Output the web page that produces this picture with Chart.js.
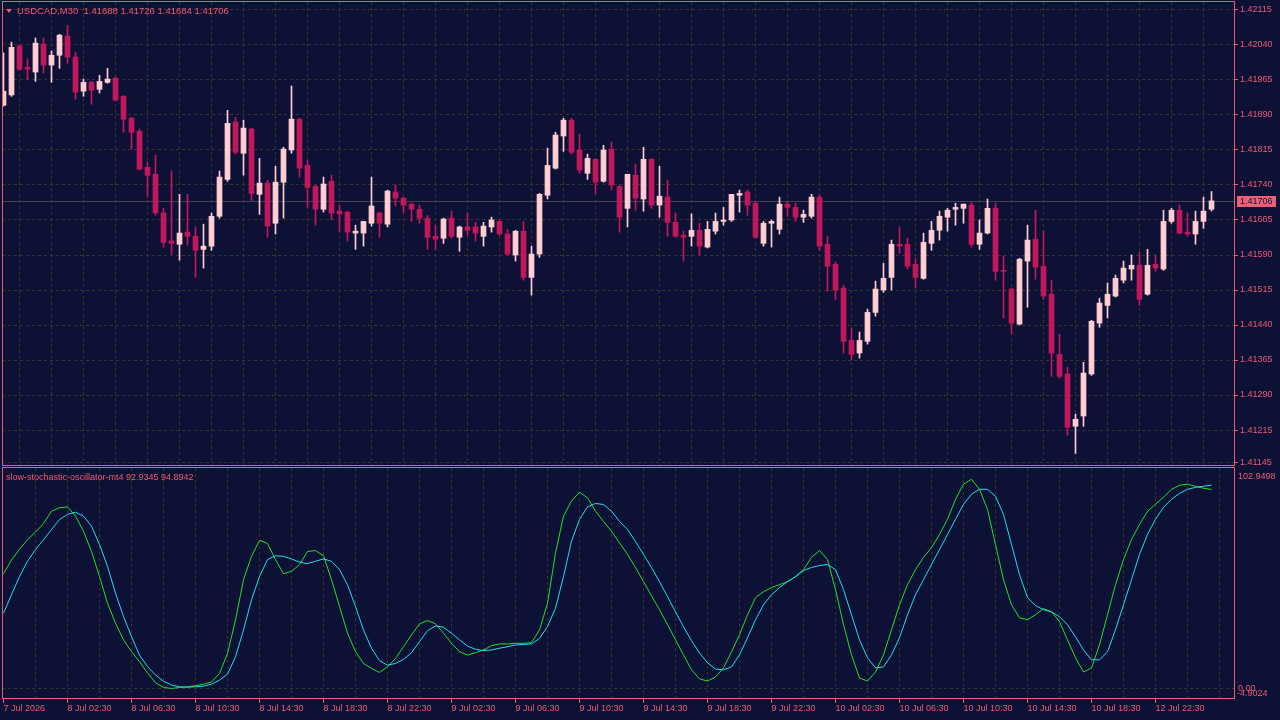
<!DOCTYPE html>
<html><head><meta charset="utf-8">
<script src="https://cdn.jsdelivr.net/npm/chart.js@4.4.1/dist/chart.umd.min.js"></script>
<style>
html,body{margin:0;padding:0;background:#0E1136;width:1280px;height:720px;overflow:hidden;}
#wrap{position:relative;width:1280px;height:720px;background:#0E1136;}
canvas{position:absolute;left:0;}
#c1{top:0;}
#c2{top:467px;}
.lbl{position:absolute;color:#EE5A70;font-family:"Liberation Sans",Arial,sans-serif;white-space:pre;line-height:1;}
#t1{left:17px;top:6px;font-size:9.5px;}
#t2{left:6px;top:473px;font-size:9px;}
#tri{position:absolute;left:6px;top:9px;width:0;height:0;border-left:3.5px solid transparent;border-right:3.5px solid transparent;border-top:4px solid #EE5A70;}
</style></head>
<body><div id="wrap">
<canvas id="c1" width="1280" height="468"></canvas>
<canvas id="c2" width="1280" height="253"></canvas>
<div id="tri"></div>
<div class="lbl" id="t1">USDCAD,M30  1.41688 1.41726 1.41684 1.41706</div>
<div class="lbl" id="t2">slow-stochastic-oscillator-mt4 92.9345 94.8942</div>
</div>
<script>
// ---- data ----
const timeLabels = ["7 Jul 2026","8 Jul 02:30","8 Jul 06:30","8 Jul 10:30","8 Jul 14:30","8 Jul 18:30","8 Jul 22:30","9 Jul 02:30","9 Jul 06:30","9 Jul 10:30","9 Jul 14:30","9 Jul 18:30","9 Jul 22:30","10 Jul 02:30","10 Jul 06:30","10 Jul 10:30","10 Jul 14:30","10 Jul 18:30","12 Jul 22:30"];
const priceTicks = [1.42115,1.42040,1.41965,1.41890,1.41815,1.41740,1.41665,1.41590,1.41515,1.41440,1.41365,1.41290,1.41215,1.41145];
const stochAxisMax = 102.9498;
const stochAxisMin = -4.9024;
const stochLevel = 0;

const opens = [1.41911,1.41933,1.42038,1.41992,1.41982,1.42042,1.41997,1.42018,1.42059,1.42014,
1.41941,1.41960,1.41945,1.41960,1.41969,1.41930,1.41883,1.41855,1.41778,1.41763,
1.41680,1.41620,1.41613,1.41639,1.41630,1.41602,1.41609,1.41673,1.41752,1.41875,
1.41808,1.41860,1.41720,1.41744,1.41658,1.41746,1.41815,1.41881,1.41782,1.41737,
1.41688,1.41748,1.41684,1.41682,1.41637,1.41637,1.41658,1.41680,1.41656,1.41725,
1.41712,1.41699,1.41688,1.41669,1.41630,1.41626,1.41669,1.41628,1.41650,1.41650,
1.41630,1.41650,1.41662,1.41635,1.41590,1.41641,1.41542,1.41592,1.41718,1.41776,
1.41845,1.41879,1.41815,1.41765,1.41795,1.41748,1.41817,1.41737,1.41690,1.41761,
1.41710,1.41795,1.41697,1.41714,1.41660,1.41632,1.41630,1.41643,1.41607,1.41641,
1.41662,1.41665,1.41718,1.41725,1.41701,1.41615,1.41658,1.41645,1.41699,1.41692,
1.41671,1.41673,1.41714,1.41613,1.41570,1.41519,1.41407,1.41380,1.41405,1.41467,
1.41515,1.41542,1.41613,1.41613,1.41570,1.41540,1.41615,1.41643,1.41671,1.41688,
1.41690,1.41697,1.41613,1.41637,1.41690,1.41557,1.41517,1.41442,1.41577,1.41624,
1.41566,1.41506,1.41377,1.41335,1.41223,1.41245,1.41335,1.41444,1.41482,1.41502,
1.41536,1.41560,1.41568,1.41506,1.41570,1.41560,1.41662,1.41686,1.41639,1.41635,
1.41662,1.41688];
const highs = [1.42023,1.42046,1.42040,1.42010,1.42055,1.42055,1.42027,1.42063,1.42082,1.42025,
1.41967,1.41962,1.41975,1.41990,1.41971,1.41932,1.41885,1.41860,1.41789,1.41804,
1.41690,1.41770,1.41720,1.41720,1.41650,1.41656,1.41680,1.41770,1.41900,1.41885,
1.41879,1.41862,1.41797,1.41750,1.41780,1.41821,1.41952,1.41883,1.41793,1.41740,
1.41757,1.41761,1.41697,1.41684,1.41654,1.41662,1.41757,1.41682,1.41729,1.41740,
1.41714,1.41701,1.41697,1.41675,1.41654,1.41669,1.41684,1.41652,1.41680,1.41660,
1.41660,1.41671,1.41665,1.41645,1.41643,1.41662,1.41609,1.41722,1.41819,1.41853,
1.41883,1.41883,1.41849,1.41806,1.41797,1.41825,1.41832,1.41740,1.41763,1.41785,
1.41821,1.41797,1.41780,1.41750,1.41680,1.41641,1.41678,1.41658,1.41662,1.41680,
1.41692,1.41720,1.41729,1.41729,1.41703,1.41662,1.41665,1.41714,1.41703,1.41701,
1.41686,1.41720,1.41720,1.41630,1.41575,1.41525,1.41433,1.41425,1.41474,1.41534,
1.41572,1.41622,1.41650,1.41626,1.41583,1.41637,1.41662,1.41684,1.41690,1.41701,
1.41699,1.41703,1.41665,1.41710,1.41701,1.41588,1.41519,1.41583,1.41654,1.41686,
1.41641,1.41536,1.41420,1.41350,1.41249,1.41360,1.41450,1.41497,1.41530,1.41547,
1.41577,1.41590,1.41596,1.41602,1.41590,1.41686,1.41690,1.41697,1.41680,1.41684,
1.41714,1.41726];
const lows = [1.41909,1.41930,1.41986,1.41965,1.41962,1.41980,1.41960,1.41990,1.42001,1.41924,
1.41930,1.41913,1.41937,1.41958,1.41920,1.41853,1.41817,1.41772,1.41714,1.41675,
1.41607,1.41592,1.41579,1.41611,1.41542,1.41562,1.41600,1.41669,1.41748,1.41806,
1.41761,1.41707,1.41677,1.41628,1.41635,1.41669,1.41808,1.41757,1.41692,1.41654,
1.41682,1.41665,1.41641,1.41620,1.41602,1.41609,1.41652,1.41628,1.41650,1.41695,
1.41680,1.41662,1.41658,1.41602,1.41602,1.41615,1.41626,1.41598,1.41632,1.41620,
1.41609,1.41639,1.41632,1.41590,1.41577,1.41536,1.41504,1.41585,1.41710,1.41774,
1.41812,1.41806,1.41765,1.41752,1.41722,1.41746,1.41729,1.41639,1.41650,1.41686,
1.41684,1.41690,1.41671,1.41630,1.41628,1.41577,1.41609,1.41590,1.41605,1.41635,
1.41654,1.41662,1.41682,1.41675,1.41626,1.41609,1.41607,1.41635,1.41673,1.41662,
1.41660,1.41669,1.41600,1.41512,1.41495,1.41380,1.41365,1.41369,1.41399,1.41459,
1.41510,1.41515,1.41594,1.41560,1.41519,1.41538,1.41600,1.41622,1.41641,1.41654,
1.41658,1.41607,1.41602,1.41635,1.41536,1.41455,1.41422,1.41440,1.41478,1.41538,
1.41495,1.41330,1.41326,1.41204,1.41165,1.41223,1.41332,1.41435,1.41455,1.41500,
1.41530,1.41536,1.41482,1.41504,1.41555,1.41557,1.41658,1.41635,1.41630,1.41613,
1.41647,1.41684];
const closes = [1.41941,1.42035,1.41988,1.41988,1.42044,1.41997,1.42018,1.42061,1.42014,1.41939,
1.41960,1.41943,1.41962,1.41967,1.41922,1.41881,1.41853,1.41774,1.41761,1.41680,
1.41617,1.41615,1.41637,1.41630,1.41600,1.41609,1.41673,1.41757,1.41872,1.41810,
1.41862,1.41722,1.41744,1.41652,1.41746,1.41817,1.41881,1.41776,1.41735,1.41688,
1.41742,1.41680,1.41678,1.41639,1.41641,1.41662,1.41695,1.41658,1.41727,1.41712,
1.41697,1.41688,1.41669,1.41628,1.41624,1.41667,1.41630,1.41650,1.41643,1.41637,
1.41652,1.41665,1.41635,1.41592,1.41641,1.41542,1.41592,1.41720,1.41782,1.41847,
1.41879,1.41810,1.41772,1.41797,1.41746,1.41815,1.41740,1.41671,1.41763,1.41712,
1.41795,1.41697,1.41716,1.41660,1.41630,1.41628,1.41643,1.41609,1.41645,1.41662,
1.41665,1.41720,1.41722,1.41697,1.41628,1.41658,1.41662,1.41699,1.41692,1.41671,
1.41677,1.41714,1.41609,1.41566,1.41515,1.41405,1.41377,1.41407,1.41467,1.41517,
1.41540,1.41613,1.41609,1.41566,1.41542,1.41617,1.41643,1.41673,1.41686,1.41692,
1.41699,1.41613,1.41637,1.41690,1.41555,1.41555,1.41444,1.41581,1.41622,1.41564,
1.41502,1.41380,1.41330,1.41221,1.41238,1.41337,1.41448,1.41487,1.41506,1.41540,
1.41562,1.41568,1.41495,1.41568,1.41562,1.41662,1.41686,1.41637,1.41635,1.41662,
1.41684,1.41706];

const stochMain = [53.6,60,65,69.5,73,77,82.8,84.4,84.8,80.5,
73.4,64,52.3,39.8,30.5,22.7,17.2,12.5,7.3,2.7,
0.5,0,0.5,0.8,1.3,2,3.1,7,16.4,32,
50.8,61.7,69.2,67.7,60.2,53.6,54.7,57.8,64,64.4,
62,50.8,38.3,25.8,17.2,11.7,9.4,7.5,10.2,14,
19.5,25,30.2,31.7,30.2,25.8,21.1,17.2,15.6,16.7,
18,20,20.8,20.8,21.1,21.1,21.4,27.3,39.8,63.3,
80.5,87.5,91.7,89,82.8,78,73.4,68,62.6,56.5,
49.9,43.3,36.8,29.8,22.7,15.7,8.7,4.5,3.5,5.4,
9.6,17.1,25.1,34.4,42.4,45.2,47.1,48.5,49.9,52.2,
55.5,61.2,64.4,60.2,46.2,29.8,15.7,4.9,3.5,7.7,
15.7,27.4,39.1,48.5,55.5,61.2,65.8,71.9,79,88.3,
95.4,97.7,93,83.6,67.2,50.8,39.1,33,32.1,34.4,
37.3,35.8,31.2,22.7,14.3,7.7,9.6,20.4,34.4,48.5,
60.2,69.6,76.6,82.7,86,89.3,93,94.9,95.4,94.4,
93.5,92.9345];
const stochSignal = [35.2,43.8,52.3,59.4,64.8,69.5,74.2,78.9,81.3,82.3,
80.5,75.8,67.2,57,44.5,33.6,24.2,15.6,10.2,6.3,
3.4,1.6,0.8,0.6,0.8,1.1,2,3.9,6.7,14.8,
27.3,41.4,52.3,60.2,62,61.7,60.5,59,58.3,59.4,
60.5,59.4,55.5,48.4,38.3,27.3,18.8,13,10.9,11.7,
13.6,16.7,21.9,27,29.2,28.6,25.8,22.7,19.8,18.3,
17.7,18,18.8,19.5,20.3,20.6,20.8,23.4,28.9,37.5,
52.3,68.8,78.9,84.8,86.4,85.9,82.8,78,74.3,68.6,
62.6,56.5,49.9,42.9,35.8,28.8,22.3,16.6,12,9.1,
8.7,10.1,15.7,23.7,32.1,39.1,43.8,47.1,49.9,52.2,
55.1,56.5,57.4,57.9,55.5,46.2,34.4,22.7,14.3,9.6,
10.1,15.7,23.7,34.4,43.8,50.8,57.9,64.9,71.9,79,
86,90.7,93,93,89.7,81.3,67.2,53.2,42.4,38.7,
36.8,35.8,33.5,29.8,24.1,18,13.4,13.4,17.1,27.4,
39.1,50.8,62.6,71.9,79,84.6,88.3,91.1,93,93.9,
94.4,94.8942];

// ---- styling ----
const BG = '#0E1136', PINK = '#EE5A70', GRID = '#3b3623';
const BULL = '#FFCDD2', BEAR = '#C2185B';
const GREEN = '#22E022', CYAN = '#22DDEE';
const FONT = '"Liberation Sans", Arial, sans-serif';
const candlesPerLabel = 8, candlesPerGrid = 4;
const xMin = -0.1875, xMax = 153.8125;
const xTickVals = [];
for (let k = 0; k <= opens.length; k += candlesPerGrid) xTickVals.push(k);

const idx = opens.map((_, i) => i);
const candleColor = idx.map(i => closes[i] >= opens[i] ? BULL : BEAR);
const lastClose = closes[closes.length - 1];

const framePlugin = {
  id: 'frame',
  afterDraw(chart) {
    const a = chart.chartArea, c = chart.ctx;
    c.save(); c.strokeStyle = PINK; c.lineWidth = 1;
    c.strokeRect(a.left + 0.5, a.top - 0.5, a.right - a.left, a.bottom - a.top);
    c.restore();
  }
};
const bgPlugin = {
  id: 'bg',
  beforeDraw(chart) {
    const c = chart.ctx; c.save(); c.fillStyle = BG; c.fillRect(0, 0, chart.width, chart.height); c.restore();
  }
};
const pricePlugin = {
  id: 'lastPrice',
  beforeDatasetsDraw(chart) {
    const a = chart.chartArea, c = chart.ctx;
    const y = Math.round(chart.scales.y.getPixelForValue(lastClose)) + 0.5;
    c.save(); c.strokeStyle = '#45424f'; c.lineWidth = 1;
    c.beginPath(); c.moveTo(a.left, y); c.lineTo(a.right, y); c.stroke(); c.restore();
  },
  afterDraw(chart) {
    const a = chart.chartArea, c = chart.ctx;
    const y = Math.round(chart.scales.y.getPixelForValue(lastClose));
    c.save(); c.fillStyle = '#EE6078';
    c.fillRect(a.right + 3, y - 5, 39, 11);
    c.fillStyle = BG; c.font = '9px ' + FONT; c.textBaseline = 'middle'; c.textAlign = 'left';
    c.fillText(lastClose.toFixed(5), a.right + 6, y + 0.5);
    c.restore();
  }
};
const stochLabelPlugin = {
  id: 'stochLabels',
  afterDraw(chart) {
    const a = chart.chartArea, c = chart.ctx, s = chart.scales.y;
    c.save(); c.fillStyle = PINK; c.font = '9px ' + FONT; c.textAlign = 'left'; c.textBaseline = 'alphabetic';
    c.fillText(stochAxisMax.toFixed(4), a.right + 4, s.getPixelForValue(stochAxisMax) + 11);
    c.fillText(stochLevel.toFixed(2), a.right + 4, s.getPixelForValue(stochLevel) + 3);
    c.fillText(stochAxisMin.toFixed(4), a.right + 3, s.getPixelForValue(stochAxisMin) - 3);
    c.restore();
  }
};

const xGridColor = ctx => (ctx.tick && ctx.tick.value === 0) ? 'rgba(0,0,0,0)' : GRID;

new Chart(document.getElementById('c1'), {
  type: 'bar',
  data: {
    datasets: [
      { label: 'body', order: 0, grouped: false, barThickness: 5, minBarLength: 1,
        data: idx.map(i => ({ x: i, y: [Math.min(opens[i], closes[i]), Math.max(opens[i], closes[i])] })),
        backgroundColor: candleColor, borderWidth: 0 },
      { label: 'wick', order: 1, grouped: false, barThickness: 1, minBarLength: 1,
        data: idx.map(i => ({ x: i, y: [lows[i], highs[i]] })),
        backgroundColor: candleColor, borderWidth: 0 }
    ]
  },
  options: {
    responsive: false, animation: false, devicePixelRatio: 1,
    layout: { padding: { top: 2, left: 2, right: 0, bottom: 2 } },
    plugins: { legend: { display: false }, tooltip: { enabled: false } },
    scales: {
      x: { type: 'linear', min: xMin, max: xMax, offset: false,
        afterBuildTicks: s => { s.ticks = xTickVals.map(v => ({ value: v })); },
        afterFit: s => { s.height = 0; s.paddingLeft = 0; s.paddingRight = 0; },
        ticks: { display: false },
        grid: { color: xGridColor, drawTicks: false, lineWidth: 1 },
        border: { display: false, dash: [3, 3] } },
      y: { type: 'linear', position: 'right', min: 1.411379, max: 1.421321,
        afterBuildTicks: s => { s.ticks = priceTicks.map(v => ({ value: v })); },
        afterFit: s => { s.width = 46; s.paddingTop = 0; s.paddingBottom = 0; },
        ticks: { color: PINK, padding: 2, font: { family: FONT, size: 9 }, callback: v => Number(v).toFixed(5) },
        grid: { color: GRID, tickColor: PINK, tickLength: 4, drawTicks: true },
        border: { display: false, dash: [3, 3] } }
    }
  },
  plugins: [bgPlugin, pricePlugin, framePlugin]
});

new Chart(document.getElementById('c2'), {
  type: 'line',
  data: {
    datasets: [
      { label: 'signal', order: 0, data: stochSignal.map((v, i) => ({ x: i, y: v })),
        borderColor: CYAN, borderWidth: 1, pointRadius: 0, tension: 0, fill: false },
      { label: 'main', order: 1, data: stochMain.map((v, i) => ({ x: i, y: v })),
        borderColor: GREEN, borderWidth: 1, pointRadius: 0, tension: 0, fill: false }
    ]
  },
  options: {
    responsive: false, animation: false, devicePixelRatio: 1,
    layout: { padding: { top: 1, left: 2, right: 0, bottom: 0 } },
    plugins: { legend: { display: false }, tooltip: { enabled: false } },
    scales: {
      x: { type: 'linear', min: xMin, max: xMax, offset: false,
        afterBuildTicks: s => { s.ticks = xTickVals.map(v => ({ value: v })); },
        afterFit: s => { s.height = 21; s.paddingLeft = 0; s.paddingRight = 0; },
        ticks: { display: true, autoSkip: false, maxRotation: 0, minRotation: 0, align: 'start', padding: 0,
          color: PINK, font: { family: FONT, size: 9 },
          callback: v => (v % candlesPerLabel === 0) ? (timeLabels[v / candlesPerLabel] || '') : '' },
        grid: { color: xGridColor, drawTicks: true, tickLength: 4,
          tickColor: ctx => (ctx.tick && ctx.tick.value % candlesPerLabel === 0 && ctx.tick.value / candlesPerLabel < timeLabels.length) ? PINK : 'rgba(0,0,0,0)' },
        border: { display: false, dash: [3, 3] } },
      y: { type: 'linear', position: 'right', min: stochAxisMin, max: stochAxisMax,
        afterBuildTicks: s => { s.ticks = [stochAxisMin, stochLevel, stochAxisMax].map(v => ({ value: v })); },
        afterFit: s => { s.width = 46; s.paddingTop = 0; s.paddingBottom = 0; },
        ticks: { display: false },
        grid: { color: ctx => (ctx.tick && ctx.tick.value === stochLevel) ? GRID : 'rgba(0,0,0,0)', drawTicks: false },
        border: { display: false, dash: [3, 3] } }
    }
  },
  plugins: [bgPlugin, stochLabelPlugin, framePlugin]
});
</script>
</body></html>
